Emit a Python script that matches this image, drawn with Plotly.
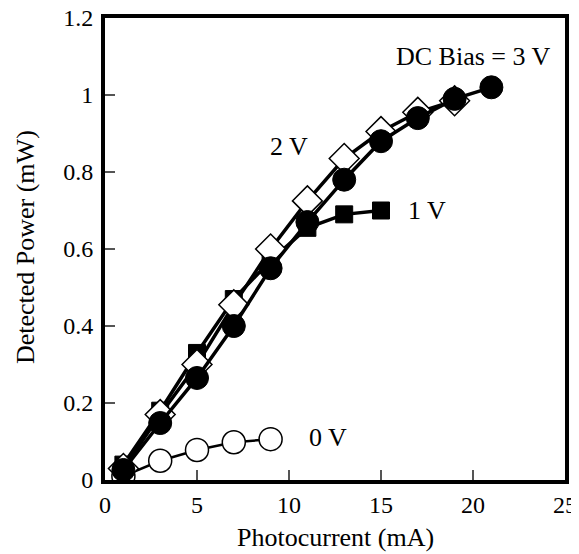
import plotly.graph_objects as go

# Data
x_0v = [1, 3, 5, 7, 9]
y_0v = [0.01, 0.05, 0.078, 0.098, 0.106]

x_1v = [1, 3, 5, 7, 9, 11, 13, 15]
y_1v = [0.04, 0.18, 0.33, 0.47, 0.57, 0.655, 0.69, 0.70]

x_2v = [1, 3, 5, 7, 9, 11, 13, 15, 17, 19]
y_2v = [0.03, 0.17, 0.30, 0.455, 0.60, 0.725, 0.835, 0.905, 0.955, 0.985]

x_3v = [1, 3, 5, 7, 9, 11, 13, 15, 17, 19, 21]
y_3v = [0.026, 0.148, 0.265, 0.40, 0.55, 0.67, 0.78, 0.88, 0.94, 0.99, 1.02]

x_ticks = [0, 5, 10, 15, 20, 25]
y_ticks = [0, 0.2, 0.4, 0.6, 0.8, 1, 1.2]
y_ticktext = ["0", "0.2", "0.4", "0.6", "0.8", "1", "1.2"]

labels = [
    ("DC Bias = 3 V", 20.0, 1.10),
    ("2 V", 10.0, 0.865),
    ("1 V", 17.5, 0.70),
    ("0 V", 12.1, 0.11),
]

FONT = "Liberation Serif"

fig = go.Figure()

fig.add_trace(go.Scatter(
    x=x_0v, y=y_0v, mode="lines+markers",
    line=dict(color="black", width=2.5),
    marker=dict(symbol="circle", size=23, color="white", line=dict(color="black", width=1.5)),
))
fig.add_trace(go.Scatter(
    x=x_1v, y=y_1v, mode="lines+markers",
    line=dict(color="black", width=3.5),
    marker=dict(symbol="square", size=17, color="black", line=dict(color="black", width=1)),
))
fig.add_trace(go.Scatter(
    x=x_2v, y=y_2v, mode="lines+markers",
    line=dict(color="black", width=3.5),
    marker=dict(symbol="diamond", size=23, color="white", line=dict(color="black", width=1.5)),
))
fig.add_trace(go.Scatter(
    x=x_3v, y=y_3v, mode="lines+markers",
    line=dict(color="black", width=3.5),
    marker=dict(symbol="circle", size=23, color="black", line=dict(color="black", width=1)),
))

for text, xv, yv in labels:
    fig.add_annotation(x=xv, y=yv, text=text, showarrow=False,
                       font=dict(family=FONT, size=26, color="black"),
                       xanchor="center", yanchor="middle")

# Axis titles
fig.add_annotation(xref="paper", yref="paper", x=0.5, y=-0.1255,
                   text="Photocurrent (mA)", showarrow=False,
                   font=dict(family=FONT, size=26, color="black"),
                   xanchor="center", yanchor="middle")
fig.add_annotation(xref="paper", yref="paper", x=-0.174, y=0.504,
                   text="Detected Power (mW)", showarrow=False, textangle=-90,
                   font=dict(family=FONT, size=26, color="black"),
                   xanchor="center", yanchor="middle")

fig.update_layout(
    width=571, height=546,
    margin=dict(l=97, r=14, t=10, b=74),
    paper_bgcolor="white", plot_bgcolor="white",
    showlegend=False,
    font=dict(family=FONT, size=24, color="black"),
    xaxis=dict(
        range=[0, 25], tickvals=x_ticks, ticks="inside", ticklen=10, tickwidth=2,
        tickcolor="#555555", showgrid=False, zeroline=False, automargin=False,
        showline=True, linecolor="black", linewidth=4, mirror=True,
        tickfont=dict(family=FONT, size=24), ticklabeloverflow="allow",
    ),
    yaxis=dict(
        range=[0, 1.2], tickvals=y_ticks, ticktext=y_ticktext, ticks="inside", ticklen=10, tickwidth=2,
        tickcolor="#555555", showgrid=False, zeroline=False, automargin=False,
        showline=True, linecolor="black", linewidth=4, mirror=True,
        tickfont=dict(family=FONT, size=24), ticklabelstandoff=3, ticklabeloverflow="allow",
    ),
)

fig.write_html("out.html")
